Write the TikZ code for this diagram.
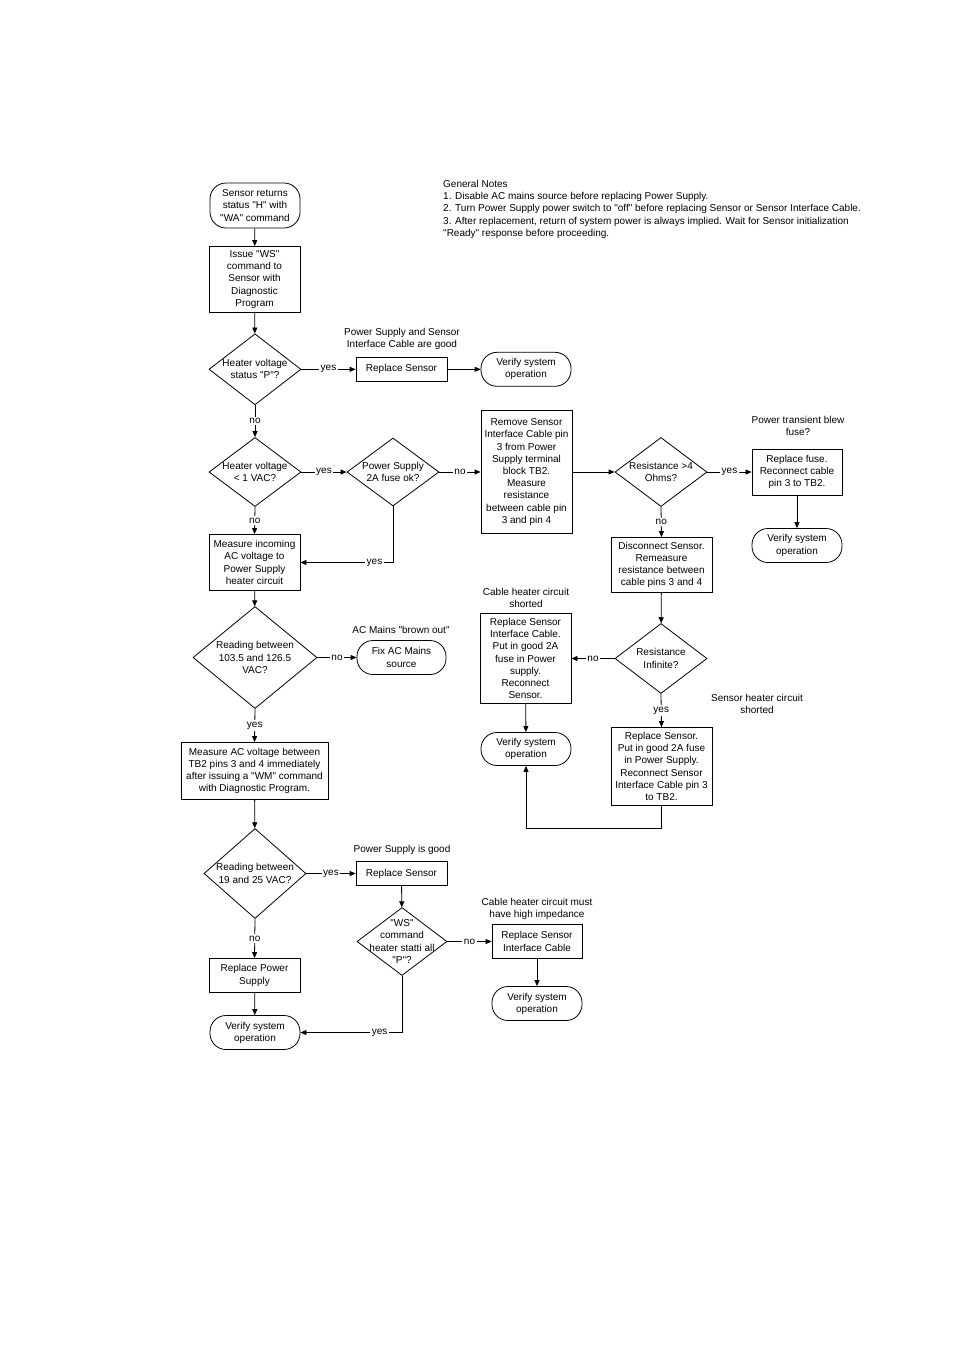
\documentclass[tikz,border=0pt]{standalone}
\usepackage{fontspec}
\setmainfont{Liberation Sans}[Ligatures=TeXOff]
\usetikzlibrary{shapes.geometric,arrows.meta,calc}
\begin{document}
\begin{tikzpicture}[x=1pt,y=-1pt,
  every node/.style={font=\fontsize{10}{12.2}\selectfont, inner sep=0pt},
  box/.style={draw, line width=0.8pt, align=center},
  term/.style={draw, line width=0.8pt, rounded corners=16pt, align=center},
  dia/.style={draw, diamond, line width=0.8pt},
  diatext/.style={align=center},
  arr/.style={line width=0.8pt, -{Triangle[length=6pt,width=5pt]}},
  con/.style={line width=0.8pt},
  lab/.style={fill=white, inner sep=1.5pt},
  note/.style={align=center}
]
\useasboundingbox[fill=white] (0,0) rectangle (954,1350);

% notes
\node[align=left, anchor=north west] (notes) at (443,180) {General Notes\\
1. Disable AC mains source before replacing Power Supply.\\
2. Turn Power Supply power switch to "off" before replacing Sensor or Sensor Interface Cable.\\
3. After replacement, return of system power is always implied. Wait for Sensor initialization\\
"Ready" response before proceeding.};

% left column
\node[term, minimum width=90, minimum height=45] (start) at (255,205.5) {Sensor returns\\status "H" with\\"WA" command};
\node[box, minimum width=91, minimum height=66] (b1) at (254.5,279.5) {Issue "WS"\\command to\\Sensor with\\Diagnostic\\Program};
\node[dia, minimum width=92, minimum height=71] (d1) at (255,369.3) {};
\node[diatext] (d1t) at (d1.center) {Heater voltage\\status "P"?};
\node[box, minimum width=91, minimum height=24] (rs1) at (401.5,369.3) {Replace Sensor};
\node[note] (lab1) at (402,339) {Power Supply and Sensor\\Interface Cable are good};
\node[term, minimum width=90, minimum height=34] (v1) at (526,369.3) {Verify system\\operation};

\node[dia, minimum width=92, minimum height=69] (d2) at (255,472) {};
\node[diatext] (d2t) at (d2.center) {Heater voltage\\< 1 VAC?};
\node[dia, minimum width=92, minimum height=68] (d3) at (393,472) {};
\node[diatext] (d3t) at (d3.center) {Power Supply\\2A fuse ok?};
\node[box, minimum width=91, minimum height=123] (rem) at (526.5,472) {Remove Sensor\\Interface Cable pin\\3 from Power\\Supply terminal\\block TB2.\\Measure\\resistance\\between cable pin\\3 and pin 4};
\node[dia, minimum width=92, minimum height=69] (d4) at (661,472) {};
\node[diatext] (d4t) at (d4.center) {Resistance >4\\Ohms?};
\node[box, minimum width=90, minimum height=46] (fuse) at (797,472) {Replace fuse.\\Reconnect cable\\pin 3 to TB2.};
\node[note] (lab2) at (798,426) {Power transient blew\\fuse?};
\node[term, minimum width=90, minimum height=34] (v2) at (797,545.5) {Verify system\\operation};

\node[box, minimum width=101, minimum height=55] (disc) at (661.5,565) {Disconnect Sensor.\\Remeasure\\resistance between\\cable pins 3 and 4};
\node[dia, minimum width=92, minimum height=70] (d5) at (661,658.5) {};
\node[diatext] (d5t) at (d5.center) {Resistance\\Infinite?};
\node[box, minimum width=91, minimum height=90] (rsic) at (525.5,658.5) {Replace Sensor\\Interface Cable.\\Put in good 2A\\fuse in Power\\supply.\\Reconnect\\Sensor.};
\node[note] (lab3) at (526,598) {Cable heater circuit\\shorted};
\node[term, minimum width=90, minimum height=33] (v3) at (526,749) {Verify system\\operation};
\node[note] (lab4) at (757,704) {Sensor heater circuit\\shorted};
\node[box, minimum width=101, minimum height=78] (rs2) at (661.5,766.5) {Replace Sensor.\\Put in good 2A fuse\\in Power Supply.\\Reconnect Sensor\\Interface Cable pin 3\\to TB2.};

\node[box, minimum width=91, minimum height=56] (meas) at (254.5,562.5) {Measure incoming\\AC voltage to\\Power Supply\\heater circuit};
\node[dia, minimum width=124, minimum height=102] (d6) at (255,657.5) {};
\node[diatext] (d6t) at (d6.center) {Reading between\\103.5 and 126.5\\VAC?};
\node[term, minimum width=89, minimum height=34] (fix) at (401.5,657.5) {Fix AC Mains\\source};
\node[note] (lab5) at (401,630) {AC Mains "brown out"};
\node[box, minimum width=147, minimum height=57] (meas2) at (254.5,771) {Measure AC voltage between\\TB2 pins 3 and 4 immediately\\after issuing a "WM" command\\with Diagnostic Program.};
\node[dia, minimum width=102, minimum height=90] (d7) at (255,873.5) {};
\node[diatext] (d7t) at (d7.center) {Reading between\\19 and 25 VAC?};
\node[box, minimum width=91, minimum height=24] (rs3) at (401.5,873.5) {Replace Sensor};
\node[note] (lab6) at (402,850) {Power Supply is good};
\node[dia, minimum width=90, minimum height=68] (d8) at (402,941.5) {};
\node[diatext] (d8t) at (d8.center) {"WS"\\command\\heater statti all\\"P"?};
\node[box, minimum width=90, minimum height=34] (rsic2) at (537,941.5) {Replace Sensor\\Interface Cable};
\node[note] (lab7) at (537,909) {Cable heater circuit must\\have high impedance};
\node[term, minimum width=90, minimum height=34] (v4) at (537,1003.5) {Verify system\\operation};
\node[box, minimum width=91, minimum height=34] (rps) at (254.5,975.5) {Replace Power\\Supply};
\node[term, minimum width=90, minimum height=34] (v5) at (255,1032.5) {Verify system\\operation};

% connectors
\draw[arr] (start) -- (b1);
\draw[arr] (b1) -- (d1);
\draw[arr] (d1.east) -- node[lab]{yes} (rs1.west);
\draw[arr] (rs1) -- (v1);
\draw[arr] (d1.south) -- node[lab]{no} (d2.north);
\draw[arr] (d2.east) -- node[lab]{yes} (d3.west);
\draw[arr] (d3.east) -- node[lab]{no} (rem.west);
\draw[arr] (rem.east) -- (d4.west);
\draw[arr] (d4.east) -- node[lab]{yes} (fuse.west);
\draw[arr] (fuse) -- (v2);
\draw[arr] (d4.south) -- node[lab]{no} (disc.north);
\draw[arr] (disc) -- (d5);
\draw[arr] (d5.west) -- node[lab]{no} (rsic.east);
\draw[arr] (rsic) -- (v3);
\draw[arr] (d5.south) -- node[lab]{yes} (rs2.north);
\draw[arr] (rs2.south) -- ++(0,22) -| (v3.south);
\draw[arr] (d3.south) |- node[lab, pos=0.6]{yes} (meas.east);
\draw[arr] (d2.south) -- node[lab]{no} (meas.north);
\draw[arr] (meas) -- (d6);
\draw[arr] (d6.east) -- node[lab]{no} (fix.west);
\draw[arr] (d6.south) -- node[lab]{yes} (meas2.north);
\draw[arr] (meas2) -- (d7);
\draw[arr] (d7.east) -- node[lab]{yes} (rs3.west);
\draw[arr] (rs3) -- (d8);
\draw[arr] (d8.east) -- node[lab]{no} (rsic2.west);
\draw[arr] (rsic2) -- (v4);
\draw[arr] (d7.south) -- node[lab]{no} (rps.north);
\draw[arr] (rps) -- (v5);
\draw[arr] (d8.south) |- node[lab, pos=0.61]{yes} (v5.east);
\end{tikzpicture}
\end{document}
